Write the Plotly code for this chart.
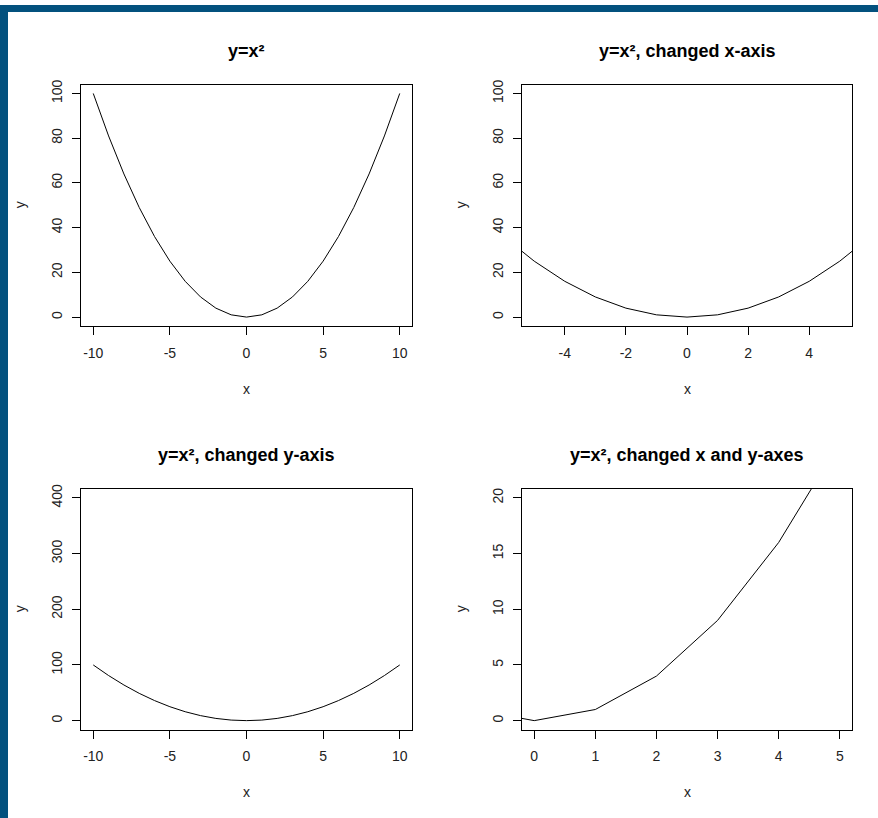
import plotly.graph_objects as go

# y = x^2 evaluated on integer x from -10 to 10
x_vals = list(range(-10, 11))
y_vals = [v * v for v in x_vals]

titles = ["y=x²", "y=x², changed x-axis", "y=x², changed y-axis", "y=x², changed x and y-axes"]
# axis limits as (xlim, ylim); R-style 4% padding applied below
limits = [
    ((-10, 10), (0, 100)),
    ((-5, 5), (0, 100)),
    ((-10, 10), (0, 400)),
    ((0, 5), (0, 20)),
]
x_ticks = [[-10, -5, 0, 5, 10], [-4, -2, 0, 2, 4], [-10, -5, 0, 5, 10], [0, 1, 2, 3, 4, 5]]
y_ticks = [[0, 20, 40, 60, 80, 100], [0, 20, 40, 60, 80, 100], [0, 100, 200, 300, 400], [0, 5, 10, 15, 20]]

W, H = 878, 818
# plot boxes in pixels: (left, right, top, bottom)
boxes = [(81, 412, 80, 323), (522, 852, 80, 323), (81, 412, 487, 729), (522, 852, 487, 729)]

FONT = "Liberation Sans, Arial, sans-serif"
fig = go.Figure()
layout = dict(
    width=W, height=H, margin=dict(l=0, r=0, t=0, b=0),
    paper_bgcolor="white", plot_bgcolor="white", showlegend=False,
    font=dict(family=FONT, size=14, color="#222"),
)
annotations = []
shapes = []

def pad(lo, hi):
    d = (hi - lo) * 0.04
    return [lo - d, hi + d]

for i, ((xl, yl), (l, r, t, b)) in enumerate(zip(limits, boxes)):
    n = "" if i == 0 else str(i + 1)
    fig.add_trace(go.Scatter(x=x_vals, y=y_vals, mode="lines",
                             line=dict(color="black", width=1),
                             xaxis="x" + n, yaxis="y" + n, cliponaxis=True))
    common = dict(showgrid=False, zeroline=False, showline=True, mirror=True,
                  linecolor="black", linewidth=1, ticks="outside", ticklen=8,
                  tickcolor="black", tickwidth=1,
                  tickfont=dict(family=FONT, size=14, color="#222"))
    layout["xaxis" + n] = dict(domain=[l / W, r / W], anchor="y" + n,
                               range=pad(*xl), tickvals=x_ticks[i],
                               ticktext=[str(v) for v in x_ticks[i]],
                               ticklabelstandoff=6, **common)
    layout["yaxis" + n] = dict(domain=[1 - b / H, 1 - t / H], anchor="x" + n,
                               range=pad(*yl), tickvals=y_ticks[i],
                               ticktext=[str(v) for v in y_ticks[i]],
                               tickangle=-90, ticklabelstandoff=4, **common)
    cx = (l + r) / 2 / W
    annotations.append(dict(text="<b>" + titles[i] + "</b>", x=cx, y=1 - (t - 34) / H,
                            xref="paper", yref="paper", showarrow=False,
                            xanchor="center", yanchor="middle",
                            font=dict(family=FONT, size=18, color="black")))
    annotations.append(dict(text="x", x=cx, y=1 - (b + 63) / H,
                            xref="paper", yref="paper", showarrow=False,
                            xanchor="center", yanchor="middle",
                            font=dict(family=FONT, size=14, color="#222")))
    annotations.append(dict(text="y", x=(l - 61) / W, y=1 - (t + b) / 2 / H,
                            xref="paper", yref="paper", showarrow=False, textangle=-90,
                            xanchor="center", yanchor="middle",
                            font=dict(family=FONT, size=14, color="#222")))

# dark blue frame along the top and left edges
frame = "#03517e"
shapes.append(dict(type="rect", xref="paper", yref="paper", x0=0, x1=1,
                   y0=1 - 7 / H, y1=1, fillcolor=frame, line=dict(width=0), layer="above"))
shapes.append(dict(type="rect", xref="paper", yref="paper", x0=0, x1=8 / W,
                   y0=0, y1=1, fillcolor=frame, line=dict(width=0), layer="above"))

layout["annotations"] = annotations
layout["shapes"] = shapes
fig.update_layout(**layout)
fig.write_html("out.html")
